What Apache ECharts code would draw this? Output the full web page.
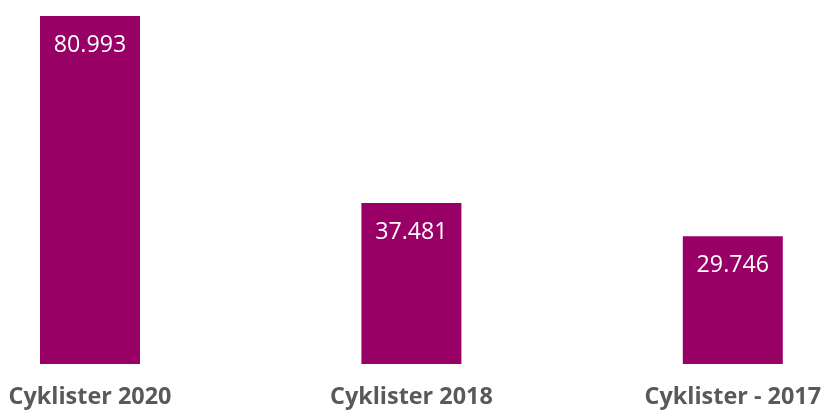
<!DOCTYPE html>
<html>
<head>
<meta charset="utf-8">
<script src="https://cdn.jsdelivr.net/npm/echarts@6/dist/echarts.min.js"></script>
<style>
  html, body { margin: 0; padding: 0; background: #fff; }
  #chart { width: 824px; height: 410px; }
</style>
</head>
<body>
<div id="chart"></div>
<script>
// data
var categories = ['Cyklister 2020', 'Cyklister 2018', 'Cyklister - 2017'];
var values = [80993, 37481, 29746];

function fmt(v) {
    return String(v).replace(/\B(?=(\d{3})+(?!\d))/g, '.');
}

var myChart = echarts.init(document.getElementById('chart'));
var option = {
    animation: false,
    grid: {
        left: 90,
        right: 90,
        top: 16,
        bottom: 46
    },
    xAxis: {
        type: 'category',
        boundaryGap: false,
        data: categories,
        axisLine: { show: false },
        axisTick: { show: false },
        axisLabel: {
            margin: 22,
            color: '#595959',
            fontFamily: 'Open Sans',
            fontWeight: 'bold',
            fontSize: 23.4
        }
    },
    yAxis: {
        type: 'value',
        min: 0,
        max: 'dataMax',
        show: false,
        splitLine: { show: false }
    },
    series: [{
        type: 'bar',
        data: values,
        barWidth: 100,
        itemStyle: { color: '#990066' },
        label: {
            show: true,
            position: 'insideTop',
            distance: 18,
            color: '#fff',
            fontFamily: 'Open Sans',
            fontSize: 23.2,
            formatter: function (p) { return fmt(p.value); }
        }
    }]
};
myChart.setOption(option);
</script>
</body>
</html>
